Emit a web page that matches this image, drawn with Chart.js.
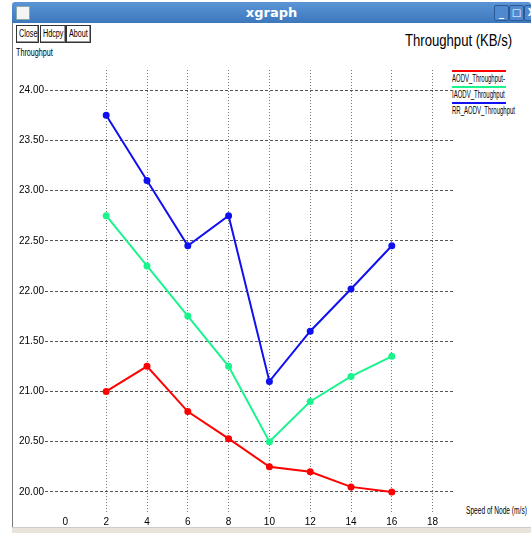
<!DOCTYPE html>
<html>
<head>
<meta charset="utf-8">
<script src="https://cdn.jsdelivr.net/npm/chart.js@4"></script>
<style>
  body { margin: 0; width: 531px; height: 533px; overflow: hidden; background: #fff; position: relative;
    font-family: "Liberation Sans", "DejaVu Sans", sans-serif; white-space: nowrap; }
  .narrow { display: inline-block; transform: scaleX(0.72); transform-origin: left center; }
  #titlebar { position: absolute; left: 12px; top: 2px; width: 519px; height: 21px;
    background: linear-gradient(#5b95d6, #3d78bd); border-radius: 3px 3px 0 0; }
  #titlebar .name { position: absolute; left: 0; right: 0; top: 3px; text-align: center; color: #fff;
    font: bold 13px "DejaVu Sans", sans-serif; }
  #titlebar .box { position: absolute; left: 4px; top: 4px; width: 12px; height: 12px; background: #f4f4f4; border: 1px solid #8aa; }
  .wbtn { position: absolute; top: 3px; width: 13px; height: 14px; border: 1px solid #2a5a95; border-radius: 2px;
    background: #4f8ad0; color: #fff; font: bold 10px "DejaVu Sans", sans-serif; text-align: center; line-height: 14px; }
  #leftedge { position: absolute; left: 12px; top: 23px; width: 1px; height: 505px; background: #777; }
  #bottomedge { position: absolute; left: 12px; top: 527px; width: 519px; height: 6px; background: #e8e4dc; border-top: 1px solid #ccc; }
  .btn { position: absolute; top: 25px; height: 16px; border: 1px solid #333; font-size: 10px; line-height: 16px;
    box-shadow: inset -1px -1px #999; background: #fff; overflow: hidden; }
  .btn span { position: absolute; left: 2px; }
  #ytitle { position: absolute; left: 16px; top: 47px; font-size: 10px; }
  #maintitle { position: absolute; left: 405px; top: 32px; font-size: 16px; }
  #maintitle span { transform: scaleX(0.82); }
  #xtitle { position: absolute; left: 466px; top: 505px; font-size: 10px; }
  #xtitle span { transform: scaleX(0.66); }
  .leg { position: absolute; left: 452px; width: 54px; font-size: 10px; }
  .leg span { transform: scaleX(0.6); }
  .leg .ln { height: 2px; margin-bottom: 1px; }
  #chart { position: absolute; left: 0; top: 0; }
</style>
</head>
<body>
<div id="titlebar"><div class="box"></div><div class="name">xgraph</div>
  <div class="wbtn" style="left:482px">_</div><div class="wbtn" style="left:497px">□</div><div class="wbtn" style="left:512px">X</div></div>
<div id="leftedge"></div>
<div id="bottomedge"></div>
<div class="btn" style="left:16px;width:21px"><span class="narrow">Close</span></div>
<div class="btn" style="left:40px;width:24px"><span class="narrow">Hdcpy</span></div>
<div class="btn" style="left:66px;width:23px"><span class="narrow">About</span></div>
<div id="ytitle"><span class="narrow">Throughput</span></div>
<div id="maintitle"><span class="narrow">Throughput (KB/s)</span></div>
<div id="xtitle"><span class="narrow">Speed of Node (m/s)</span></div>
<div id="legend"></div>
<canvas id="chart" width="531" height="533"></canvas>
<script>
// speeds (m/s) and throughput per protocol
let speeds = [2, 4, 6, 8, 10, 12, 14, 16];
let aodv = [21.00, 21.25, 20.80, 20.53, 20.25, 20.20, 20.05, 20.00];
let iaodv = [22.75, 22.25, 21.75, 21.25, 20.50, 20.90, 21.15, 21.35];
let rrAodv = [23.75, 23.10, 22.45, 22.75, 21.10, 21.60, 22.02, 22.45];
let seriesNames = ['AODV_Throughput-', 'IAODV_Throughput', 'RR_AODV_Throughput'];
let seriesColors = ['#ff0000', '#19f58c', '#1010f0'];
let xTicks = [0, 2, 4, 6, 8, 10, 12, 14, 16, 18];
let yTicks = [20, 20.5, 21, 21.5, 22, 22.5, 23, 23.5, 24];

let allValues = [aodv, iaodv, rrAodv];

// legend in the top right corner
let legendEl = document.getElementById('legend');
for (let idx = 0; idx < seriesNames.length; idx++) {
  let item = document.createElement('div');
  item.className = 'leg';
  item.style.top = (70 + idx * 16) + 'px';
  item.innerHTML = '<div class="ln" style="background:' + seriesColors[idx] + '"></div><span class="narrow">' + seriesNames[idx] + '</span>';
  legendEl.appendChild(item);
}

let datasets = [];
for (let idx = 0; idx < allValues.length; idx++) {
  datasets.push({
    label: seriesNames[idx],
    data: speeds.map((s, i) => ({ x: s, y: allValues[idx][i] })),
    borderColor: seriesColors[idx],
    backgroundColor: seriesColors[idx],
    borderWidth: 2,
    pointRadius: 2.5,
    tension: 0
  });
}

const tickFont = { family: '"Liberation Sans", sans-serif', size: 10 };

new Chart(document.getElementById('chart'), {
  type: 'line',
  data: { datasets: datasets },
  options: {
    responsive: false,
    animation: false,
    layout: { padding: { left: 0, top: 70, right: 78, bottom: 0 } },
    plugins: { legend: { display: false }, tooltip: { enabled: false } },
    scales: {
      x: {
        type: 'linear', min: -1, max: 19,
        afterBuildTicks: s => { s.ticks = xTicks.map(v => ({ value: v })); },
        afterFit: s => { s.height = 21; },
        border: { display: false, dash: [1, 2] },
        grid: { color: c => c.tick && c.tick.value === 0 ? 'rgba(0,0,0,0)' : '#777', drawTicks: false, lineWidth: 1 },
        ticks: { color: '#000', font: tickFont, padding: 4, maxRotation: 0, callback: v => String(v) }
      },
      y: {
        type: 'linear', min: 19.8, max: 24.2,
        afterBuildTicks: s => { s.ticks = yTicks.map(v => ({ value: v })); },
        afterFit: s => { s.width = 45; },
        border: { display: false, dash: [3, 2] },
        grid: { color: '#555', drawTicks: false, lineWidth: 1 },
        ticks: { color: '#000', font: tickFont, padding: 1, callback: v => v.toFixed(2) }
      }
    }
  }
});
</script>
</body>
</html>
